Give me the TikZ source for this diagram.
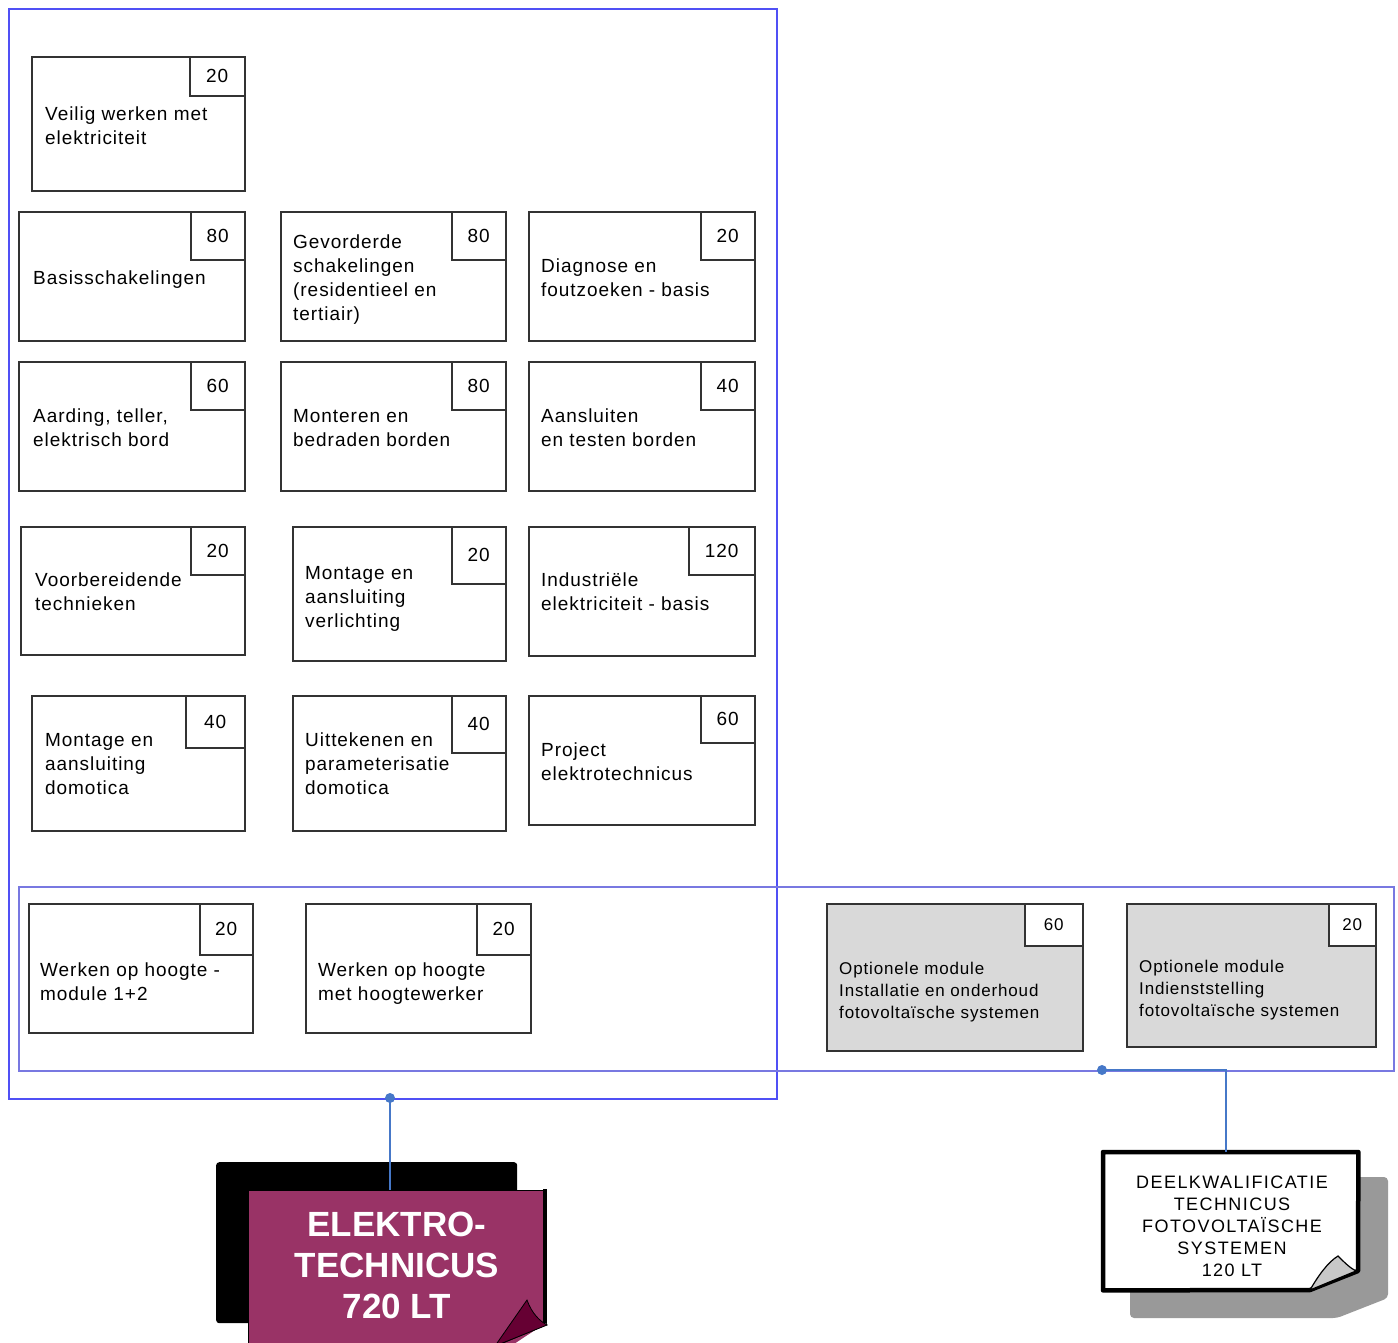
\documentclass[tikz,border=0pt]{standalone}
\usepackage{fontspec}
\setmainfont{Liberation Sans}[LetterSpace=5]
\newfontfamily\boldsans{Liberation Sans}[LetterSpace=0]
\newfontfamily\deelsans{Liberation Sans}[LetterSpace=8]
\definecolor{frameA}{RGB}{80,80,245}
\definecolor{frameB}{RGB}{120,120,225}
\definecolor{conn}{RGB}{70,120,200}
\definecolor{magC}{RGB}{153,51,102}
\definecolor{foldC}{RGB}{102,0,51}
\definecolor{optgrey}{RGB}{217,217,217}
\definecolor{shadowgrey}{RGB}{153,153,153}
\definecolor{curlgrey}{RGB}{200,200,200}
\newcommand\modul[8]{%
  \node[modbox, minimum width=#4pt, minimum height=#5pt] (#1) at (#2,#3) {};
  \node[numbox, minimum width=#6pt, minimum height=#7pt] (#1n) at (#1.north east) {#8};}
\begin{document}
\begin{tikzpicture}[x=1pt,y=-1pt,
  framebox/.style={rectangle, inner sep=0, anchor=north west, line width=1.5pt},
  modbox/.style={draw=black!80, line width=1.5pt, fill=white, rectangle, inner sep=0, anchor=north west},
  numbox/.style={draw=black!80, line width=1.5pt, fill=white, rectangle, inner sep=0, anchor=north east, font=\fontsize{19}{24}\selectfont},
  modtext/.style={anchor=north west, inner sep=0, align=left, font=\fontsize{19}{24}\selectfont},
  opttext/.style={anchor=north west, inner sep=0, align=left, font=\fontsize{17}{22}\selectfont},
  dotc/.style={circle, fill=conn, inner sep=0, minimum size=10pt},
  connline/.style={draw=conn, line width=1.4pt}]
\useasboundingbox (0,0) rectangle (1398,1342);

% frames
\node[framebox, draw=frameA, minimum width=768pt, minimum height=1090pt] (f1) at (8,8) {};
\node[framebox, draw=frameB, minimum width=1375pt, minimum height=184pt] (f2) at (18,886) {};

% modules
\modul{m1}{31}{56}{213}{134}{55}{39}{20}
\node[modtext] (m1t) at (45,107) {Veilig werken met\\elektriciteit};

\modul{m2}{18}{211}{226}{129}{54}{48}{80}
\node[modtext] (m2t) at (33,271) {Basisschakelingen};

\modul{m3}{280}{211}{225}{129}{54}{48}{80}
\node[modtext] (m3t) at (293,235) {Gevorderde\\schakelingen\\(residentieel en\\tertiair)};

\modul{m4}{528}{211}{226}{129}{54}{48}{20}
\node[modtext] (m4t) at (541,259) {Diagnose en\\foutzoeken - basis};

\modul{m5}{18}{361}{226}{129}{54}{48}{60}
\node[modtext] (m5t) at (33,409) {Aarding, teller,\\elektrisch bord};

\modul{m6}{280}{361}{225}{129}{54}{48}{80}
\node[modtext] (m6t) at (293,409) {Monteren en\\bedraden borden};

\modul{m7}{528}{361}{226}{129}{54}{48}{40}
\node[modtext] (m7t) at (541,409) {Aansluiten\\en testen borden};

\modul{m8}{20}{526}{224}{128}{54}{48}{20}
\node[modtext] (m8t) at (35,573) {Voorbereidende\\technieken};

\modul{m9}{292}{526}{213}{134}{54}{57}{20}
\node[modtext] (m9t) at (305,566) {Montage en\\aansluiting\\verlichting};

\modul{m10}{528}{526}{226}{129}{66}{48}{120}
\node[modtext] (m10t) at (541,573) {Industriële\\elektriciteit - basis};

\modul{m11}{31}{695}{213}{135}{59}{52}{40}
\node[modtext] (m11t) at (45,733) {Montage en\\aansluiting\\domotica};

\modul{m12}{292}{695}{213}{135}{54}{57}{40}
\node[modtext] (m12t) at (305,733) {Uittekenen en\\parameterisatie\\domotica};

\modul{m13}{528}{695}{226}{129}{54}{47}{60}
\node[modtext] (m13t) at (541,743) {Project\\elektrotechnicus};

\modul{m14}{28}{903}{224}{129}{53}{51}{20}
\node[modtext] (m14t) at (40,963) {Werken op hoogte -\\module 1+2};

\modul{m15}{305}{903}{225}{129}{54}{51}{20}
\node[modtext] (m15t) at (318,963) {Werken op hoogte\\met hoogtewerker};

% optional modules (grey)
\node[modbox, fill=optgrey, minimum width=256pt, minimum height=147pt] (o1) at (826,903) {};
\node[numbox, font=\fontsize{17}{22}\selectfont, minimum width=58pt, minimum height=42pt] (o1n) at (o1.north east) {60};
\node[opttext] (o1t) at (839,962) {Optionele module\\Installatie en onderhoud\\fotovoltaïsche systemen};

\node[modbox, fill=optgrey, minimum width=249pt, minimum height=143pt] (o2) at (1126,903) {};
\node[numbox, font=\fontsize{17}{22}\selectfont, minimum width=47pt, minimum height=42pt] (o2n) at (o2.north east) {20};
\node[opttext] (o2t) at (1139,960) {Optionele module\\Indienststelling\\fotovoltaïsche systemen};

% ELEKTROTECHNICUS
\node[fill=black, rounded corners=3pt, inner sep=0, anchor=north west,
      minimum width=301pt, minimum height=161pt] (eshadow) at (216,1162) {};
\node[fill=magC, draw=black, line width=1.2pt, inner sep=0, anchor=north west,
      minimum width=297pt, minimum height=160pt] (elektro) at (248,1190) {};
\fill[white] (546,1323) -- (560,1323) -- (560,1360) -- (490,1360) -- cycle;
\draw[black, line width=4pt] (545,1189) -- (545,1323);
\draw[black, line width=2pt] (547,1324) -- (494,1346);
\fill[foldC, draw=black, line width=0.8pt] (527,1300) .. controls (532,1314) and (540,1321) .. (547,1325) -- (495,1346) -- cycle;
\node[inner sep=0, align=center, text=white,
      font=\boldsans\bfseries\fontsize{35}{41}\selectfont] (etext) at (397,1265)
      {ELEKTRO-\\TECHNICUS\\720 LT};

% DEELKWALIFICATIE
\fill[shadowgrey, rounded corners=4pt] (1130,1177) -- (1388,1177) -- (1388,1298) -- (1337,1318) -- (1130,1318) -- cycle;
\node[inner sep=0, anchor=north west, minimum width=255pt, minimum height=138pt] (deel) at (1103,1152) {};
\draw[black, fill=white, line width=4.5pt, line join=round] (deel.north west) -- (deel.north east) -- (1358,1271) -- (1310,1290) -- (deel.south west) -- cycle;
\fill[curlgrey, draw=black, line width=1.2pt] (1310,1290) .. controls (1318,1276) and (1328,1262) .. (1338,1256) .. controls (1344,1262) and (1350,1268) .. (1356,1271) -- cycle;
\node[inner sep=0, align=center, font=\deelsans\fontsize{18}{22}\selectfont] (deeltext) at (1232,1226)
      {DEELKWALIFICATIE\\TECHNICUS\\FOTOVOLTAÏSCHE\\SYSTEMEN\\120 LT};

% connectors
\coordinate (d1) at (390,1098);
\draw[connline] (d1) -- (d1 |- elektro.north);
\node[dotc] (dot1) at (d1) {};
\coordinate (d2) at (1102,1070);
\coordinate (c2) at (1226,1152);
\draw[connline] (d2) -| (c2);
\node[dotc] (dot2) at (d2) {};
\end{tikzpicture}
\end{document}
